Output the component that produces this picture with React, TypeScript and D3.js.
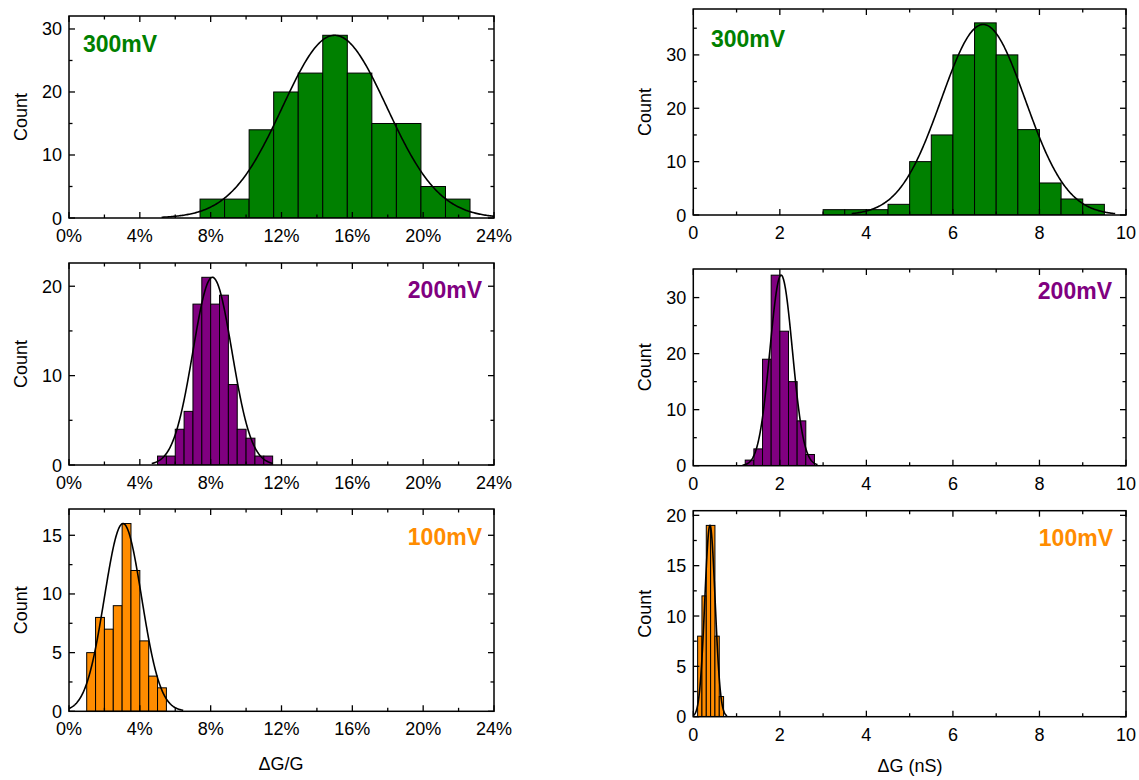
import React from "react";
import * as d3 from "d3";

// ---------- DATA ----------
// Left column: ΔG/G (%) histograms
const left300Counts = [3, 3, 14, 20, 23, 29, 23, 15, 15, 5, 3];
const left300Bins = [7.4, 1.386]; // start, width (%)
const left300Fit = [15.0, 2.95, 29, 5.23, 24]; // center, sigma, amplitude, from, to

const left200Counts = [1, 1, 4, 6, 18, 21, 18, 19, 9, 4, 3, 1, 1];
const left200Bins = [5.0, 0.5];
const left200Fit = [8.1, 1.1, 21, 4.67, 11.5];

const left100Counts = [5, 8, 7, 9, 16, 12, 6, 3, 2];
const left100Bins = [1.0, 0.5];
const left100Fit = [3.05, 1.05, 16, 0, 6.45];

// Right column: ΔG (nS) histograms
const right300Counts = [1, 1, 1, 2, 10, 15, 30, 36, 30, 16, 6, 3, 2];
const right300Bins = [3.0, 0.5];
const right300Fit = [6.7, 0.97, 35.7, 3.66, 9.75];

const right200Counts = [1, 3, 19, 34, 24, 15, 8, 2];
const right200Bins = [1.2, 0.2];
const right200Fit = [2.03, 0.26, 34, 1.14, 2.87];

const right100Counts = [8, 12, 19, 19, 8, 2];
const right100Bins = [0.1, 0.1];
const right100Fit = [0.385, 0.12, 19, 0, 0.78];

// Tick values
const leftXMajor = [0, 4, 8, 12, 16, 20, 24];
const leftXMinor = [2, 6, 10, 14, 18, 22];
const rightXMajor = [0, 2, 4, 6, 8, 10];
const rightXMinor = [1, 3, 5, 7, 9];
const yMajor30 = [0, 10, 20, 30];
const yMinor30 = [5, 15, 25];
const yMinor35 = [5, 15, 25, 35];
const yMajor20 = [0, 10, 20];
const yMinor20 = [5, 15];
const yMajor15 = [0, 5, 10, 15];
const yMinor15 = [2.5, 7.5, 12.5];
const yMajor20b = [0, 5, 10, 15, 20];
const yMinor20b = [2.5, 7.5, 12.5, 17.5];

const voltageLabels = ["300mV", "200mV", "100mV"];
const colors = ["#008000", "#800080", "#FF8C00"];

// ---------- LAYOUT ----------
type Panel = {
  x0: number; x1: number; y0: number; y1: number;
  xMax: number; yMax: number;
  counts: number[]; bins: number[]; fit: number[];
  color: string; label: string; labelLeft: boolean; labelX: number; labelY: number;
  xMajor: number[]; xMinor: number[]; yMajor: number[]; yMinor: number[];
  pct: boolean; countX: number;
};

const panels: Panel[] = [
  { x0: 69, x1: 494, y0: 16, y1: 218, xMax: 24, yMax: 32.06, counts: left300Counts, bins: left300Bins, fit: left300Fit,
    color: colors[0], label: voltageLabels[0], labelLeft: true, labelX: 83, labelY: 52,
    xMajor: leftXMajor, xMinor: leftXMinor, yMajor: yMajor30, yMinor: yMinor30, pct: true, countX: 27 },
  { x0: 69, x1: 494, y0: 263, y1: 465, xMax: 24, yMax: 22.6, counts: left200Counts, bins: left200Bins, fit: left200Fit,
    color: colors[1], label: voltageLabels[1], labelLeft: false, labelX: 482, labelY: 298,
    xMajor: leftXMajor, xMinor: leftXMinor, yMajor: yMajor20, yMinor: yMinor20, pct: true, countX: 27 },
  { x0: 69, x1: 494, y0: 509, y1: 711.3, xMax: 24, yMax: 17.24, counts: left100Counts, bins: left100Bins, fit: left100Fit,
    color: colors[2], label: voltageLabels[2], labelLeft: false, labelX: 482, labelY: 545,
    xMajor: leftXMajor, xMinor: leftXMinor, yMajor: yMajor15, yMinor: yMinor15, pct: true, countX: 27 },
  { x0: 693.3, x1: 1126, y0: 9, y1: 215, xMax: 10, yMax: 38.6, counts: right300Counts, bins: right300Bins, fit: right300Fit,
    color: colors[0], label: voltageLabels[0], labelLeft: true, labelX: 711, labelY: 47,
    xMajor: rightXMajor, xMinor: rightXMinor, yMajor: yMajor30, yMinor: yMinor35, pct: false, countX: 651 },
  { x0: 693.3, x1: 1126, y0: 269, y1: 465.7, xMax: 10, yMax: 35.1, counts: right200Counts, bins: right200Bins, fit: right200Fit,
    color: colors[1], label: voltageLabels[1], labelLeft: false, labelX: 1112, labelY: 299,
    xMajor: rightXMajor, xMinor: rightXMinor, yMajor: yMajor30, yMinor: yMinor30, pct: false, countX: 651 },
  { x0: 693.3, x1: 1126, y0: 510.7, y1: 716.7, xMax: 10, yMax: 20.46, counts: right100Counts, bins: right100Bins, fit: right100Fit,
    color: colors[2], label: voltageLabels[2], labelLeft: false, labelX: 1113, labelY: 546,
    xMajor: rightXMajor, xMinor: rightXMinor, yMajor: yMajor20b, yMinor: yMinor20b, pct: false, countX: 651 },
];

const FONT = "Liberation Sans, Arial, Helvetica, sans-serif";
const TICK_FS = 18;

function PanelView({ p, idx }: { p: Panel; idx: number }) {
  const x = d3.scaleLinear().domain([0, p.xMax]).range([p.x0, p.x1]);
  const y = d3.scaleLinear().domain([0, p.yMax]).range([p.y1, p.y0]);
  const [mu, sigma, amp, from, to] = p.fit;
  const samples = d3.range(0, 301).map((i) => from + ((to - from) * i) / 300);
  const line = d3
    .line<number>()
    .x((v) => x(v))
    .y((v) => y(amp * Math.exp(-((v - mu) * (v - mu)) / (2 * sigma * sigma))))
    .curve(d3.curveLinear);
  const [bStart, bWidth] = p.bins;
  const majorLen = 6;
  const minorLen = 3.5;
  const clipId = `clip${idx}`;
  return (
    <g>
      <defs>
        <clipPath id={clipId}>
          <rect x={p.x0} y={p.y0} width={p.x1 - p.x0} height={p.y1 - p.y0} />
        </clipPath>
      </defs>
      <g clipPath={`url(#${clipId})`}>
        {p.counts.map((c, i) => {
          const a = bStart + i * bWidth;
          const b = a + bWidth;
          return (
            <rect
              key={i}
              x={x(a)}
              y={y(c)}
              width={x(b) - x(a)}
              height={y(0) - y(c)}
              fill={p.color}
              stroke="#000"
              strokeWidth={1}
            />
          );
        })}
        <path d={line(samples) || ""} fill="none" stroke="#000" strokeWidth={1.6} />
      </g>
      {/* x ticks */}
      {p.xMajor.map((t) => (
        <g key={"xM" + t}>
          <line x1={x(t)} x2={x(t)} y1={p.y1} y2={p.y1 - majorLen} stroke="#000" strokeWidth={1.3} />
          <line x1={x(t)} x2={x(t)} y1={p.y0} y2={p.y0 + majorLen} stroke="#000" strokeWidth={1.3} />
          <text x={x(t)} y={p.y1 + 24} textAnchor="middle" fontSize={TICK_FS} fontFamily={FONT} fill="#000">
            {p.pct ? `${t}%` : `${t}`}
          </text>
        </g>
      ))}
      {p.xMinor.map((t) => (
        <g key={"xm" + t}>
          <line x1={x(t)} x2={x(t)} y1={p.y1} y2={p.y1 - minorLen} stroke="#000" strokeWidth={1.3} />
          <line x1={x(t)} x2={x(t)} y1={p.y0} y2={p.y0 + minorLen} stroke="#000" strokeWidth={1.3} />
        </g>
      ))}
      {/* y ticks */}
      {p.yMajor.map((t) => (
        <g key={"yM" + t}>
          <line x1={p.x0} x2={p.x0 + majorLen} y1={y(t)} y2={y(t)} stroke="#000" strokeWidth={1.3} />
          <line x1={p.x1} x2={p.x1 - majorLen} y1={y(t)} y2={y(t)} stroke="#000" strokeWidth={1.3} />
          <text x={p.x0 - 7} y={y(t) + 6.5} textAnchor="end" fontSize={TICK_FS} fontFamily={FONT} fill="#000">
            {t}
          </text>
        </g>
      ))}
      {p.yMinor.map((t) => (
        <g key={"ym" + t}>
          <line x1={p.x0} x2={p.x0 + minorLen} y1={y(t)} y2={y(t)} stroke="#000" strokeWidth={1.3} />
          <line x1={p.x1} x2={p.x1 - minorLen} y1={y(t)} y2={y(t)} stroke="#000" strokeWidth={1.3} />
        </g>
      ))}
      <rect x={p.x0} y={p.y0} width={p.x1 - p.x0} height={p.y1 - p.y0} fill="none" stroke="#000" strokeWidth={1.5} />
      <text
        x={p.labelX}
        y={p.labelY}
        textAnchor={p.labelLeft ? "start" : "end"}
        fontSize={23}
        fontWeight="bold"
        fontFamily={FONT}
        fill={p.color}
      >
        {p.label}
      </text>
      <text
        transform={`translate(${p.countX},${(p.y0 + p.y1) / 2}) rotate(-90)`}
        textAnchor="middle"
        fontSize={18}
        fontFamily={FONT}
        fill="#000"
      >
        Count
      </text>
    </g>
  );
}

export default function App() {
  return (
    <svg
      width={1139}
      height={780}
      style={{ position: "absolute", left: 0, top: 0, background: "#fff" }}
      xmlns="http://www.w3.org/2000/svg"
    >
      <rect x={0} y={0} width={1139} height={780} fill="#fff" />
      {panels.map((p, i) => (
        <PanelView key={i} p={p} idx={i} />
      ))}
      <text x={281} y={770} textAnchor="middle" fontSize={18} fontFamily={FONT} fill="#000">
        ΔG/G
      </text>
      <text x={910} y={772} textAnchor="middle" fontSize={18} fontFamily={FONT} fill="#000">
        ΔG (nS)
      </text>
    </svg>
  );
}
